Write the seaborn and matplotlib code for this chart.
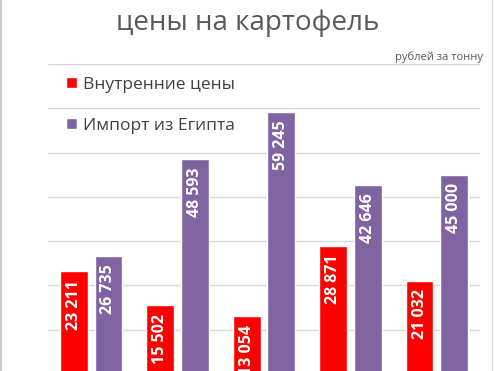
import pandas as pd
import numpy as np
import seaborn as sns
import matplotlib.pyplot as plt
from matplotlib.lines import Line2D

# values (rubles per tonne); x labels are cropped in the source
periods = ['1', '2', '3', '4', '5']
domestic = [23211, 15502, 13054, 28871, 21032]
egypt = [26735, 48593, 59245, 42646, 45000]
series_names = ['Внутренние цены', 'Импорт из Египта']
colors = ['#FF0000', '#8064A2']

df = pd.DataFrame({
    'period': periods * 2,
    'price': domestic + egypt,
    'series': [series_names[0]] * len(periods) + [series_names[1]] * len(periods),
})

sns.set_theme(style='white')
plt.rcParams['font.family'] = ['Open Sans', 'DejaVu Sans']

fig = plt.figure(figsize=(4.95, 3.71), dpi=100)
ax = fig.add_axes([48 / 495, -3 / 371, 432 / 495, 310 / 371])

sns.barplot(data=df, x='period', y='price', hue='series', palette=colors,
            width=0.8, gap=0.2, saturation=1, ax=ax)

ax.set_ylim(0, 70000)
ax.set_yticks(np.arange(0, 70001, 10000))
ax.yaxis.grid(True, color='#D9D9D9', linewidth=1)
ax.set_axisbelow(True)
ax.tick_params(left=False, bottom=False, labelleft=False, labelbottom=False)
for s in ax.spines.values():
    s.set_visible(False)
ax.set_xlabel('')
ax.set_ylabel('')

# value labels inside the top of each bar
for cont in ax.containers:
    for bar in cont:
        h = bar.get_height()
        ax.annotate(f'{int(h):,}'.replace(',', ' '),
                    xy=(bar.get_x() + bar.get_width() / 2, h),
                    xytext=(0, -6), textcoords='offset points',
                    rotation=90, ha='center', va='top',
                    color='white', fontsize=11.5, fontweight='bold')

leg = ax.legend(loc='upper left', bbox_to_anchor=(0.005, 1.01), frameon=False,
                fontsize=12.5, handlelength=0.65, handleheight=0.65,
                handletextpad=0.35, labelspacing=1.45, labelcolor='#404040')

fig.text(0.5, 1 - 23 / 371, 'цены на картофель', ha='center', va='center',
         fontsize=20, color='#595959')
fig.text(483 / 495, 1 - 57 / 371, 'рублей за тонну', ha='right', va='center',
         fontsize=8, color='#595959')

# thin frame lines at the left and right edges
fig.add_artist(Line2D([1 / 495, 1 / 495], [0, 1], color='#C8C8C8', lw=1.5))
fig.add_artist(Line2D([492 / 495, 492 / 495], [0, 1], color='#D9D9D9', lw=1))

fig.savefig('out.png', dpi=100)
